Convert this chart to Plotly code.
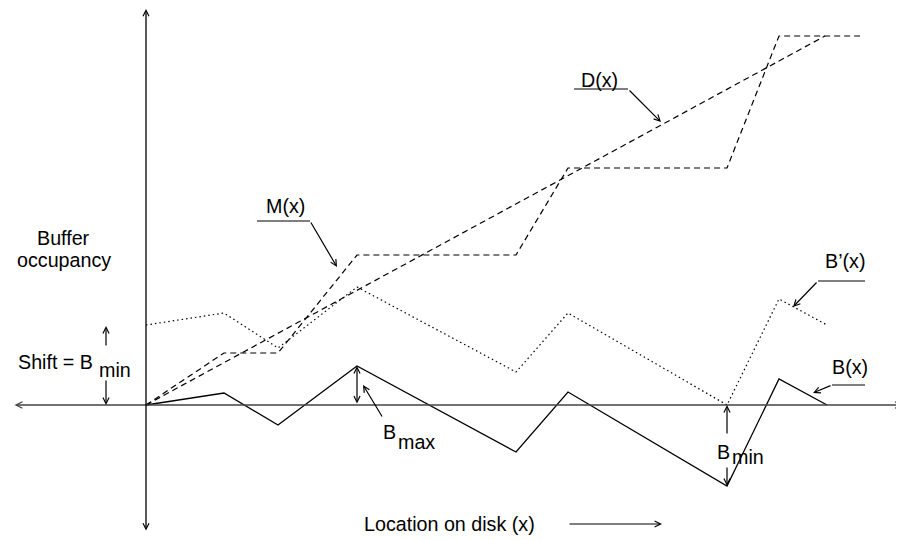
import plotly.graph_objects as go

# Coordinates in diagram units (origin at the axes crossing, y up)
x_knots = [0, 78, 132, 211, 370, 422, 581, 633, 681]
B_vals = [0, 12, -20, 39, -47, 13, -81, 26, 0]
Bp_vals = [80, 92, 57, 118, 33, 92, 0, 106, 80]

M_x = [0, 78, 132, 211, 370, 422, 581, 633, 714]
M_y = [0, 52, 52, 150, 150, 237, 237, 369, 369]

D_x = [0, 679]
D_y = [0, 369]

FONT = dict(family="Liberation Sans, Arial, Helvetica, sans-serif", size=19.7, color="black")

fig = go.Figure()
fig.add_trace(go.Scatter(x=D_x, y=D_y, mode="lines",
                         line=dict(color="black", width=1.2, dash="6px,4px")))
fig.add_trace(go.Scatter(x=M_x, y=M_y, mode="lines",
                         line=dict(color="black", width=1.2, dash="6px,4px")))
fig.add_trace(go.Scatter(x=x_knots, y=Bp_vals, mode="lines",
                         line=dict(color="black", width=1.2, dash="1.5px,3px")))
fig.add_trace(go.Scatter(x=x_knots, y=B_vals, mode="lines",
                         line=dict(color="black", width=1.3)))

annotations = []

def arrow(tail, head, both=False, color="black", width=1.2, size=1.0):
    annotations.append(dict(
        x=head[0], y=head[1], ax=tail[0], ay=tail[1],
        xref="x", yref="y", axref="x", ayref="y",
        text="", showarrow=True, arrowhead=5, startarrowhead=5,
        arrowside="end+start" if both else "end",
        arrowsize=size, startarrowsize=size, arrowwidth=width, arrowcolor=color))

def label(x, y, text, xanchor="center"):
    annotations.append(dict(x=x, y=y, xref="x", yref="y", text=text,
                            showarrow=False, xanchor=xanchor, yanchor="middle",
                            font=FONT))

# axes with arrow heads
arrow((-133, 0), (757, 0), both=True, color="#444", width=1.6, size=0.8)
arrow((0, -127), (0, 396), both=True, color="black", width=1.3, size=0.9)

# shift arrows
arrow((-40, 58), (-40, 79))
arrow((-40, 26), (-40, 0))
# Bmax double arrow
arrow((211, 0), (211, 39), both=True)
# Bmin arrows
arrow((581, -30), (581, 0))
arrow((581, -61), (581, -81))
# leaders
arrow((164, 184), (191, 138))
arrow((482, 316), (515, 283))
arrow((672, 124), (647, 98))
arrow((686, 20), (667, 12))
arrow((237, -13), (217, 20))
# x-direction arrow
arrow((422, -119), (516, -119), width=1.2)

shapes = []
for (x0, y0, x1, y1) in [(111, 184, 164, 184), (428, 316, 482, 316),
                         (719, 124, 672, 124), (719, 20, 686, 20)]:
    shapes.append(dict(type="line", xref="x", yref="y", x0=x0, y0=y0, x1=x1, y1=y1,
                       line=dict(color="black", width=1.2)))

label(-83, 167, "Buffer")
label(-82, 145, "occupancy")
label(-130, 43, "Shift = B", xanchor="left")
label(-49, 35, "min", xanchor="left")
label(139, 199, "M(x)")
label(453, 325, "D(x)")
label(699, 144, "B’(x)")
label(704, 38, "B(x)")
label(235, -27, "B", xanchor="left")
label(250, -37, "max", xanchor="left")
label(569, -47, "B", xanchor="left")
label(584, -52, "min", xanchor="left")
label(216, -119, "Location on disk (x)", xanchor="left")

# the page places the figure 8px in from the top-left corner; ranges compensate
fig.update_layout(
    width=904, height=540,
    margin=dict(l=0, r=0, t=0, b=0),
    paper_bgcolor="white", plot_bgcolor="white",
    showlegend=False,
    annotations=annotations, shapes=shapes,
    xaxis=dict(range=[-138, 766], visible=False, fixedrange=True),
    yaxis=dict(range=[-143, 397], visible=False, fixedrange=True),
)

fig.write_html("out.html")
